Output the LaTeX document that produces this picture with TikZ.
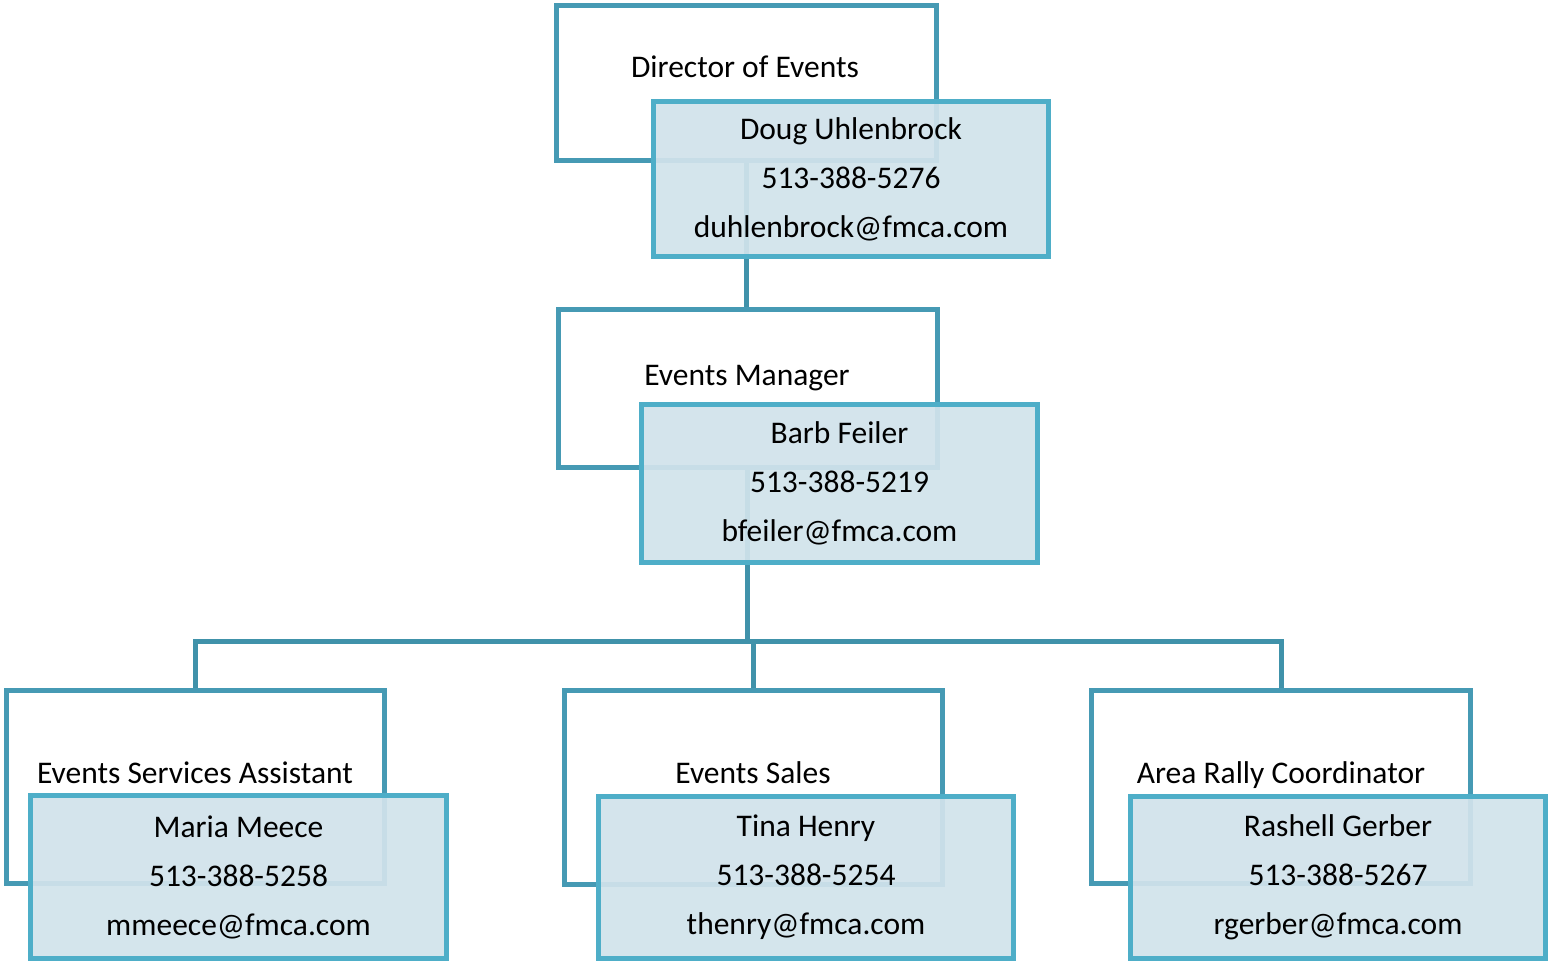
\documentclass[tikz,border=0pt]{standalone}
\usepackage{fontspec}
\setmainfont{Carlito}
\definecolor{titleline}{RGB}{70,154,180}
\definecolor{personline}{RGB}{78,174,200}
\definecolor{personfill}{RGB}{209,227,235}
\definecolor{linkline}{RGB}{64,146,170}
\begin{document}
\begin{tikzpicture}[x=1pt,y=-1pt,
  titlebox/.style={draw=titleline,line width=5pt,fill=white,inner sep=0pt},
  personbox/.style={draw=personline,line width=5pt,fill=personfill,fill opacity=0.93,text opacity=1,
    align=center,inner sep=0pt,font=\fontsize{31.5}{49}\selectfont},
  titletext/.style={anchor=base,inner sep=0pt,font=\fontsize{31.5}{38}\selectfont},
  link/.style={draw=linkline,line width=5pt}]
\useasboundingbox (0,0) rectangle (1550,963);
% title boxes
\node[titlebox,minimum width=380pt,minimum height=155pt] (dirbox) at (746.5,83) {};
\node[titlebox,minimum width=379pt,minimum height=158pt] (embox) at (747.5,388.5) {};
\node[titlebox,minimum width=378pt,minimum height=193pt] (esabox) at (195,787) {};
\node[titlebox,minimum width=378pt,minimum height=194pt] (esbox) at (753,787.5) {};
\node[titlebox,minimum width=379pt,minimum height=193pt] (arcbox) at (1281,787) {};
% title texts
\node[titletext] (dirtitle) at (745,78) {Director of Events};
\node[titletext] (emtitle) at (747,385) {Events Manager};
\node[titletext] (esatitle) at (195,783) {Events Services Assistant};
\node[titletext] (estitle) at (753,783) {Events Sales};
\node[titletext] (arctitle) at (1281,783) {Area Rally Coordinator};
% connectors
\coordinate (bus) at (748,641);
\draw[link] (dirbox.south) -- (dirbox.south |- embox.north);
\draw[link] (embox.south) -- (embox.south |- bus);
\draw[link] (esabox.north) -- (esabox.north |- bus) -- (arcbox.north |- bus) -- (arcbox.north);
\draw[link] (esbox.north) -- (esbox.north |- bus);
% person boxes
\node[personbox,minimum width=395pt,minimum height=155pt] (doug) at (851,179)
  {Doug Uhlenbrock\\513-388-5276\\duhlenbrock@fmca.com};
\node[personbox,minimum width=396pt,minimum height=158pt] (barb) at (839.5,483.5)
  {Barb Feiler\\513-388-5219\\bfeiler@fmca.com};
\node[personbox,minimum width=416pt,minimum height=163pt] (maria) at (238.5,877)
  {Maria Meece\\513-388-5258\\mmeece@fmca.com};
\node[personbox,minimum width=415pt,minimum height=162pt] (tina) at (806,877.5)
  {Tina Henry\\513-388-5254\\thenry@fmca.com};
\node[personbox,minimum width=415pt,minimum height=162pt] (rashell) at (1338,877.5)
  {Rashell Gerber\\513-388-5267\\rgerber@fmca.com};
\end{tikzpicture}
\end{document}
